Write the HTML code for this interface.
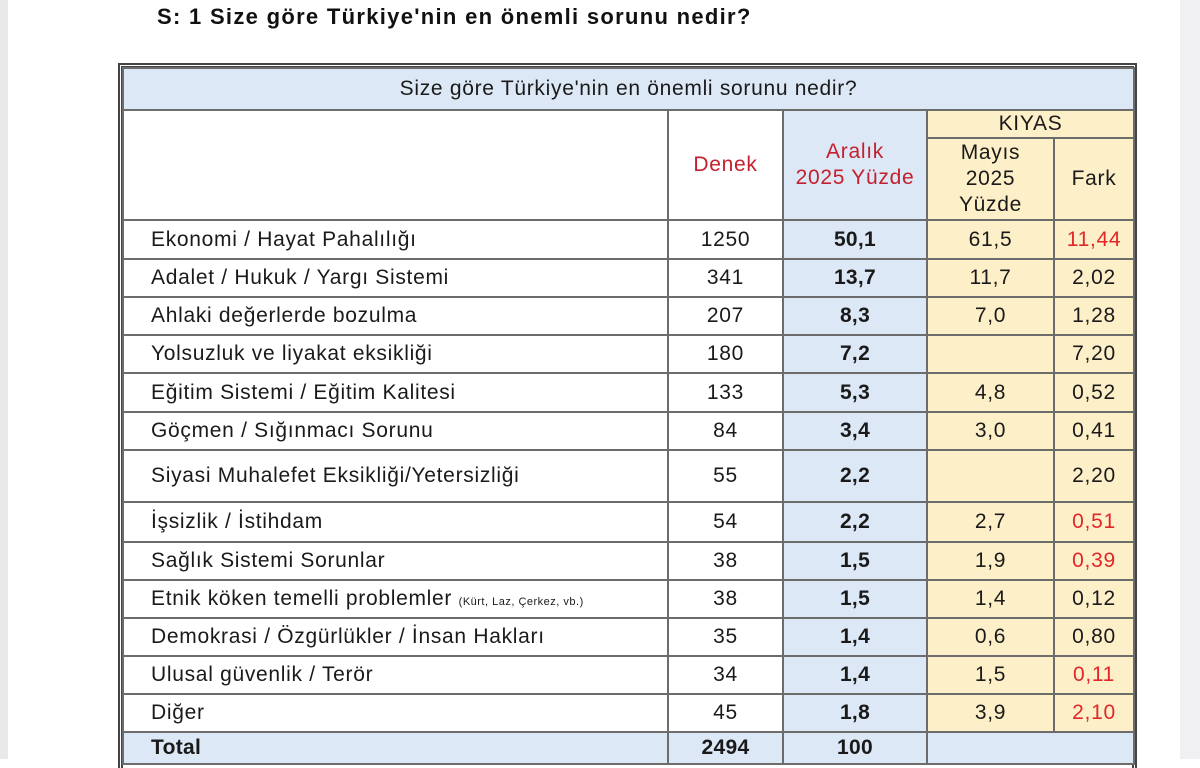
<!DOCTYPE html>
<html><head><meta charset="utf-8"><style>
body{margin:0;width:1200px;height:759px;overflow:hidden;background:#fff;position:relative;font-family:"Liberation Sans",sans-serif;}
.lg{position:absolute;left:0;top:0;width:8px;height:759px;background:#e9e9eb;}
.rg{position:absolute;right:0;top:0;width:20px;height:759px;background:#f0f0f2;}
.title{position:absolute;left:157px;top:4px;font-size:22px;font-weight:bold;color:#111;letter-spacing:1.3px;}
.wrap{position:absolute;left:118px;top:63px;width:1009px;height:700px;border:5px double #444;border-bottom:0;}
table{border-collapse:collapse;table-layout:fixed;width:1011px;position:absolute;left:-1px;top:-1px;}
td{border:2px solid #6c6c6c;padding:0;font-size:21px;letter-spacing:0.7px;color:#1a1a1a;text-align:center;vertical-align:middle;white-space:nowrap;overflow:hidden;}
td.l{text-align:left;padding-left:27px;}
.b{background:#dce8f5;}
.y{background:#fdefc8;}
.r{color:#c4202e;}
.rr{color:#e2262a;}
.bd{font-weight:bold;letter-spacing:0.3px;}
small{font-size:11px;letter-spacing:0.5px;}
</style></head><body>
<div class="lg"></div><div class="rg"></div>
<div class="title">S: 1 Size göre Türkiye'nin en önemli sorunu nedir?</div>
<div class="wrap">
<table>
<colgroup><col style="width:545px"><col style="width:115px"><col style="width:144px"><col style="width:127px"><col style="width:80px"></colgroup>
<tr style="height:42px"><td colspan="5" class="b">Size göre Türkiye'nin en önemli sorunu nedir?</td></tr>
<tr style="height:28px"><td rowspan="2"></td><td rowspan="2" class="r">Denek</td><td rowspan="2" class="b r" style="line-height:26px">Aralık<br>2025 Yüzde</td><td colspan="2" class="y">KIYAS</td></tr>
<tr style="height:82px"><td class="y" style="line-height:26px">Mayıs<br>2025<br>Yüzde</td><td class="y">Fark</td></tr>
<tr style="height:39px"><td class="l">Ekonomi / Hayat Pahalılığı</td><td>1250</td><td class="b bd">50,1</td><td class="y">61,5</td><td class="y rr">11,44</td></tr>
<tr style="height:38px"><td class="l">Adalet / Hukuk / Yargı Sistemi</td><td>341</td><td class="b bd">13,7</td><td class="y">11,7</td><td class="y">2,02</td></tr>
<tr style="height:38px"><td class="l">Ahlaki değerlerde bozulma</td><td>207</td><td class="b bd">8,3</td><td class="y">7,0</td><td class="y">1,28</td></tr>
<tr style="height:38px"><td class="l">Yolsuzluk ve liyakat eksikliği</td><td>180</td><td class="b bd">7,2</td><td class="y"></td><td class="y">7,20</td></tr>
<tr style="height:39px"><td class="l">Eğitim Sistemi / Eğitim Kalitesi</td><td>133</td><td class="b bd">5,3</td><td class="y">4,8</td><td class="y">0,52</td></tr>
<tr style="height:38px"><td class="l">Göçmen / Sığınmacı Sorunu</td><td>84</td><td class="b bd">3,4</td><td class="y">3,0</td><td class="y">0,41</td></tr>
<tr style="height:52px"><td class="l">Siyasi Muhalefet Eksikliği/Yetersizliği</td><td>55</td><td class="b bd">2,2</td><td class="y"></td><td class="y">2,20</td></tr>
<tr style="height:40px"><td class="l">İşsizlik / İstihdam</td><td>54</td><td class="b bd">2,2</td><td class="y">2,7</td><td class="y rr">0,51</td></tr>
<tr style="height:38px"><td class="l">Sağlık Sistemi Sorunlar</td><td>38</td><td class="b bd">1,5</td><td class="y">1,9</td><td class="y rr">0,39</td></tr>
<tr style="height:38px"><td class="l">Etnik köken temelli problemler <small>(Kürt, Laz, Çerkez, vb.)</small></td><td>38</td><td class="b bd">1,5</td><td class="y">1,4</td><td class="y">0,12</td></tr>
<tr style="height:38px"><td class="l">Demokrasi / Özgürlükler / İnsan Hakları</td><td>35</td><td class="b bd">1,4</td><td class="y">0,6</td><td class="y">0,80</td></tr>
<tr style="height:38px"><td class="l">Ulusal güvenlik / Terör</td><td>34</td><td class="b bd">1,4</td><td class="y">1,5</td><td class="y rr">0,11</td></tr>
<tr style="height:38px"><td class="l">Diğer</td><td>45</td><td class="b bd">1,8</td><td class="y">3,9</td><td class="y rr">2,10</td></tr>
<tr style="height:32px"><td class="l b bd">Total</td><td class="b bd">2494</td><td class="b bd">100</td><td colspan="2" class="b"></td></tr>
</table>
</div>
</body></html>
